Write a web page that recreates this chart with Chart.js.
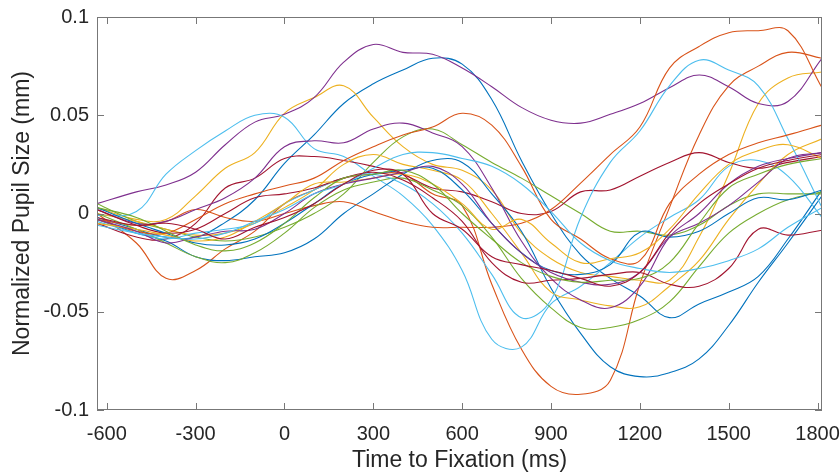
<!DOCTYPE html>
<html>
<head>
<meta charset="utf-8">
<script src="https://cdn.jsdelivr.net/npm/chart.js@4.4.1/dist/chart.umd.min.js"></script>
<style>
  html, body { margin: 0; padding: 0; background: #fff; }
  #wrap { width: 840px; height: 475px; position: relative; }
</style>
</head>
<body>
<div id="wrap"><canvas id="pupilChart"></canvas></div>
<script>
// time axis knots (ms) shared by all traces
const times = [-633, -500, -400, -300, -200, -100, 0, 100, 200, 300, 400, 500, 600,
  700, 800, 900, 1000, 1100, 1200, 1300, 1400, 1500, 1600, 1700, 1815];

const xTicks = [-600, -300, 0, 300, 600, 900, 1200, 1500, 1800];
const yTicks = [-0.1, -0.05, 0, 0.05, 0.1];

// MATLAB default colour order
const colorOrder = ['#0072BD', '#D95319', '#EDB120', '#7E2F8E', '#77AC30', '#4DBEEE', '#A2142F'];

// normalized pupil size (mm), one array per trace
const s01 = [-0.002, -0.008, -0.012, -0.012, -0.0045, 0.007, 0.0255, 0.040, 0.056, 0.066, 0.073, 0.079, 0.076, 0.058, 0.027, 0.000, -0.021, -0.033, -0.042, -0.053, -0.046, -0.040, -0.032, -0.013, 0.012];
const s02 = [0.000, -0.015, -0.033, -0.029, -0.018, -0.009, 0.005, 0.012, 0.018, 0.020, 0.020, 0.010, 0.004, -0.036, -0.069, -0.088, -0.092, -0.085, -0.036, 0.003, 0.040, 0.065, 0.075, 0.082, 0.079];
const s03 = [0.003, -0.003, -0.003, 0.009, 0.023, 0.031, 0.051, 0.059, 0.065, 0.049, 0.034, 0.025, 0.022, 0.012, -0.010, -0.023, -0.030, -0.032, -0.034, -0.034, -0.012, 0.020, 0.056, 0.069, 0.072];
const s04 = [0.005, 0.011, 0.0145, 0.021, 0.035, 0.0465, 0.0505, 0.059, 0.077, 0.086, 0.082, 0.081, 0.074, 0.0645, 0.054, 0.0475, 0.046, 0.0505, 0.056, 0.064, 0.0705, 0.0645, 0.056, 0.057, 0.079];
const s05 = [0.005, -0.004, -0.008, -0.012, -0.014, -0.012, -0.007, 0.000, 0.010, 0.026, 0.039, 0.043, 0.035, 0.026, 0.018, 0.009, 0.000, -0.009, -0.009, -0.011, -0.006, 0.004, 0.010, 0.010, 0.010];
const s06 = [-0.001, 0.001, 0.020, 0.032, 0.042, 0.050, 0.049, 0.033, 0.029, 0.019, 0.009, -0.006, -0.029, -0.064, -0.068, -0.046, -0.037, -0.025, -0.012, -0.002, 0.007, 0.024, 0.027, 0.019, -0.002];
const s07 = [-0.005, -0.012, -0.013, -0.005, 0.013, 0.018, 0.028, 0.029, 0.027, 0.024, 0.020, 0.013, 0.011, 0.006, 0.000, 0.001, 0.011, 0.012, 0.019, 0.026, 0.031, 0.026, 0.023, 0.026, 0.029];
const s08 = [-0.003, -0.010, -0.014, -0.022, -0.024, -0.022, -0.020, -0.013, 0.000, 0.010, 0.020, 0.027, 0.026, 0.010, -0.009, -0.038, -0.061, -0.078, -0.083, -0.081, -0.074, -0.057, -0.035, -0.015, 0.009];
const s09 = [-0.003, -0.006, -0.004, 0.002, -0.002, -0.004, 0.000, 0.004, 0.006, 0.001, -0.004, -0.007, -0.007, -0.007, -0.005, 0.002, 0.0155, 0.030, 0.044, 0.074, 0.085, 0.092, 0.093, 0.093, 0.064];
const s10 = [0.000, -0.004, -0.008, -0.011, -0.010, -0.005, 0.003, 0.012, 0.025, 0.030, 0.025, 0.022, 0.017, 0.000, -0.020, -0.040, -0.044, -0.047, -0.0475, -0.037, -0.024, -0.003, 0.015, 0.030, 0.038];
const s11 = [0.002, -0.005, -0.004, 0.002, 0.008, 0.018, 0.034, 0.037, 0.036, 0.043, 0.046, 0.041, 0.034, 0.013, -0.014, -0.033, -0.044, -0.048, -0.037, -0.012, 0.000, 0.015, 0.024, 0.028, 0.031];
const s12 = [0.000, -0.008, -0.015, -0.022, -0.025, -0.020, -0.010, 0.003, 0.012, 0.016, 0.018, 0.012, 0.004, -0.012, -0.033, -0.048, -0.058, -0.058, -0.054, -0.045, -0.027, -0.010, 0.000, 0.007, 0.011];
const s13 = [-0.004, -0.010, -0.013, -0.010, -0.008, -0.005, 0.005, 0.012, 0.018, 0.020, 0.015, 0.005, -0.010, -0.031, -0.053, -0.044, -0.002, 0.026, 0.042, 0.065, 0.078, 0.073, 0.065, 0.038, 0.003];
const s14 = [0.002, -0.006, -0.010, -0.008, 0.000, 0.008, 0.010, 0.013, 0.018, 0.021, 0.017, 0.008, -0.004, -0.025, -0.035, -0.034, -0.033, -0.031, -0.030, -0.036, -0.037, -0.028, -0.008, -0.011, -0.0085];
const s15 = [0.003, -0.005, -0.010, -0.015, -0.016, -0.013, -0.005, 0.005, 0.015, 0.020, 0.022, 0.023, 0.012, -0.005, -0.020, -0.029, -0.031, -0.026, -0.0095, -0.012, -0.009, 0.000, 0.008, 0.007, 0.012];
const s16 = [-0.003, -0.009, -0.010, -0.003, 0.005, 0.010, 0.014, 0.018, 0.027, 0.034, 0.040, 0.044, 0.051, 0.045, 0.024, -0.003, -0.013, -0.023, -0.024, 0.005, 0.020, 0.030, 0.036, 0.040, 0.045];
const s17 = [-0.005, -0.008, -0.011, -0.014, -0.012, -0.004, 0.005, 0.015, 0.016, 0.018, 0.020, 0.015, 0.005, -0.008, -0.003, -0.015, -0.025, -0.023, -0.020, -0.008, 0.010, 0.025, 0.032, 0.035, 0.028];
const s18 = [-0.003, -0.009, -0.015, -0.012, -0.009, -0.008, 0.000, 0.010, 0.015, 0.018, 0.021, 0.024, 0.015, -0.005, -0.020, -0.030, -0.035, -0.036, -0.030, -0.012, -0.005, 0.004, 0.016, 0.028, 0.031];
const s19 = [0.003, -0.002, -0.009, -0.016, -0.019, -0.015, -0.005, 0.008, 0.018, 0.020, 0.022, 0.015, 0.000, -0.013, -0.025, -0.032, -0.035, -0.034, -0.033, -0.025, -0.005, 0.013, 0.020, 0.025, 0.028];
const s20 = [-0.006, -0.010, -0.012, -0.013, -0.010, -0.004, 0.002, 0.010, 0.015, 0.023, 0.030, 0.031, 0.028, 0.024, 0.015, 0.001, -0.015, -0.024, -0.028, -0.030, -0.028, -0.024, -0.018, -0.007, 0.003];
const s21 = [-0.002, -0.006, -0.005, -0.008, -0.013, -0.007, -0.002, 0.005, 0.015, 0.022, 0.020, 0.000, -0.008, -0.022, -0.026, -0.029, -0.033, -0.037, -0.030, -0.010, 0.005, 0.015, 0.023, 0.027, 0.030];

const series = [s01, s02, s03, s04, s05, s06, s07, s08, s09, s10, s11,
  s12, s13, s14, s15, s16, s17, s18, s19, s20, s21];

const datasets = series.map((vals, i) => ({
  data: vals.map((v, k) => ({ x: times[k], y: v })),
  borderColor: colorOrder[i % colorOrder.length],
  borderWidth: 1.1,
  pointRadius: 0,
  tension: 0.4,
  fill: false,
  // MATLAB draws later lines on top
  order: series.length - i
}));

// box and inward ticks, MATLAB style
const boxTicks = {
  id: 'boxTicks',
  afterDraw(chart) {
    const { ctx, chartArea: a, scales: { x, y } } = chart;
    const len = 7;
    ctx.save();
    ctx.strokeStyle = '#777777';
    ctx.lineWidth = 1;
    ctx.strokeRect(a.left + 0.5, a.top + 0.5, a.right - a.left - 1, a.bottom - a.top - 1);
    ctx.beginPath();
    xTicks.forEach(t => {
      const px = Math.round(x.getPixelForValue(t)) + 0.5;
      ctx.moveTo(px, a.bottom); ctx.lineTo(px, a.bottom - len);
      ctx.moveTo(px, a.top); ctx.lineTo(px, a.top + len);
    });
    yTicks.forEach(t => {
      const py = Math.round(y.getPixelForValue(t)) + 0.5;
      ctx.moveTo(a.left, py); ctx.lineTo(a.left + len, py);
      ctx.moveTo(a.right, py); ctx.lineTo(a.right - len, py);
    });
    ctx.stroke();
    ctx.restore();
  }
};

const labelFont = { family: '"Liberation Sans", Arial, sans-serif', size: 20 };
const titleFont = { family: '"Liberation Sans", Arial, sans-serif', size: 23 };

new Chart(document.getElementById('pupilChart'), {
  type: 'line',
  data: { datasets },
  options: {
    responsive: true,
    maintainAspectRatio: false,
    animation: false,
    layout: { padding: { top: 17, right: 18, left: 0, bottom: 0 } },
    plugins: { legend: { display: false }, tooltip: { enabled: false } },
    scales: {
      x: {
        type: 'linear',
        min: -633,
        max: 1815,
        grid: { display: false, drawTicks: false },
        border: { display: false },
        afterBuildTicks: s => { s.ticks = xTicks.map(v => ({ value: v })); },
        afterFit: s => { s.height = 65; s.paddingLeft = 0; s.paddingRight = 0; },
        ticks: { color: '#262626', font: labelFont, padding: 12, maxRotation: 0, callback: v => String(v) },
        title: { display: true, text: 'Time to Fixation (ms)', color: '#262626', font: titleFont, padding: { top: 0, bottom: 1 } }
      },
      y: {
        type: 'linear',
        min: -0.1,
        max: 0.1,
        grid: { display: false, drawTicks: false },
        border: { display: false },
        afterBuildTicks: s => { s.ticks = yTicks.map(v => ({ value: v })); },
        afterFit: s => { s.width = 97; s.paddingTop = 0; s.paddingBottom = 0; },
        ticks: { color: '#262626', font: labelFont, padding: 8, callback: v => String(v) },
        title: { display: true, text: 'Normalized Pupil Size (mm)', color: '#262626', font: titleFont, padding: { top: 9, bottom: 0 } }
      }
    }
  },
  plugins: [boxTicks]
});
</script>
</body>
</html>
